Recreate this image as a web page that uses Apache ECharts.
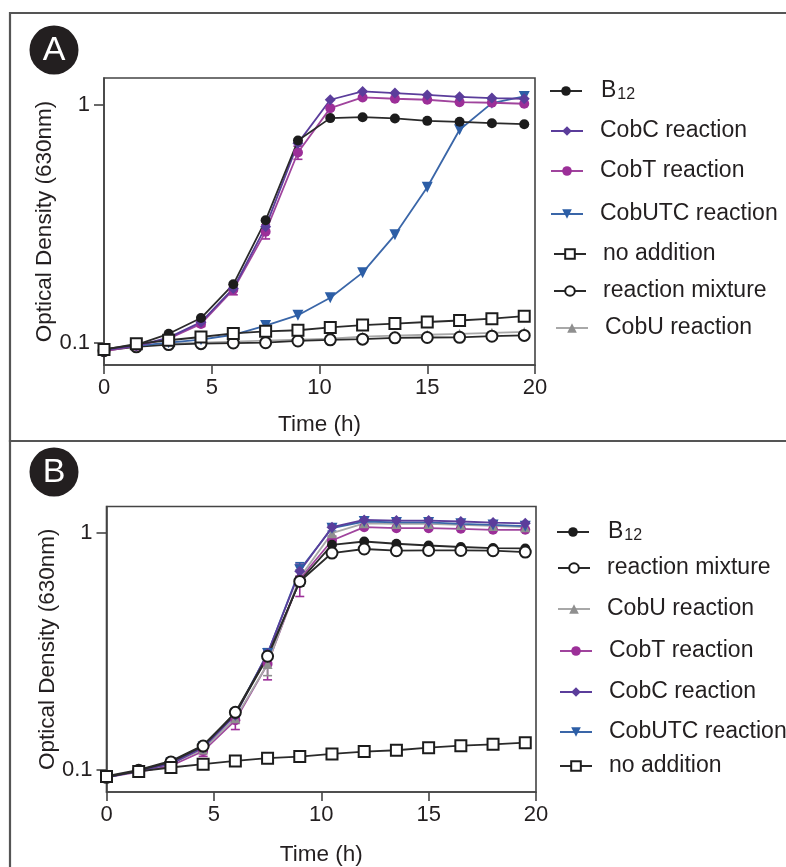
<!DOCTYPE html>
<html>
<head>
<meta charset="utf-8">
<script src="https://cdn.jsdelivr.net/npm/echarts@6/dist/echarts.min.js"></script>
<style>
  html, body { margin: 0; padding: 0; background: #fff; }
  #chart { width: 786px; height: 867px; }
</style>
</head>
<body>
<div id="chart"></div>
<script>
// Sampling times (h)
const times = [0, 1.5, 3, 4.5, 6, 7.5, 9, 10.5, 12, 13.5, 15, 16.5, 18, 19.5];

// Panel A: optical density (630 nm)
const b12A     = [0.094, 0.098, 0.109, 0.127, 0.176, 0.327, 0.708, 0.879, 0.887, 0.876, 0.856, 0.848, 0.837, 0.829];
const cobCA    = [0.093, 0.097, 0.105, 0.122, 0.169, 0.307, 0.690, 1.050, 1.138, 1.120, 1.100, 1.080, 1.067, 1.060];
const cobTA    = [0.092, 0.097, 0.104, 0.120, 0.167, 0.293, 0.630, 0.968, 1.074, 1.060, 1.050, 1.026, 1.020, 1.010];
const cobUTCA  = [0.093, 0.097, 0.100, 0.103, 0.108, 0.118, 0.1305, 0.1545, 0.197, 0.284, 0.450, 0.785, 1.016, 1.084];
const noAddA   = [0.0936, 0.0989, 0.1024, 0.1057, 0.1094, 0.1117, 0.1128, 0.1160, 0.1186, 0.1204, 0.1222, 0.1240, 0.1262, 0.1293];
const mixA     = [0.0926, 0.0961, 0.0982, 0.0991, 0.0997, 0.1000, 0.1017, 0.1028, 0.1035, 0.1048, 0.1052, 0.1054, 0.1065, 0.1073];
const cobUA    = [0.093, 0.097, 0.099, 0.100, 0.101, 0.102, 0.103, 0.104, 0.106, 0.107, 0.108, 0.109, 0.110, 0.111];

// Panel B: optical density (630 nm)
const b12B     = [0.094, 0.100, 0.109, 0.127, 0.173, 0.299, 0.627, 0.893, 0.922, 0.902, 0.887, 0.874, 0.865, 0.862];
const mixB     = [0.093, 0.0995, 0.108, 0.126, 0.175, 0.302, 0.625, 0.824, 0.857, 0.843, 0.845, 0.845, 0.843, 0.832];
const cobUB    = [0.093, 0.099, 0.106, 0.122, 0.165, 0.280, 0.650, 1.000, 1.100, 1.094, 1.094, 1.083, 1.073, 1.060];
const cobTB    = [0.093, 0.098, 0.104, 0.120, 0.162, 0.280, 0.640, 0.931, 1.060, 1.050, 1.050, 1.043, 1.033, 1.033];
const cobCB    = [0.093, 0.099, 0.106, 0.124, 0.170, 0.310, 0.690, 1.060, 1.137, 1.130, 1.130, 1.120, 1.108, 1.100];
const cobUTCB  = [0.093, 0.099, 0.107, 0.125, 0.172, 0.310, 0.700, 1.050, 1.120, 1.110, 1.110, 1.095, 1.083, 1.070];
const noAddB   = [0.0938, 0.0985, 0.1023, 0.1057, 0.1090, 0.1120, 0.1138, 0.1167, 0.1194, 0.1210, 0.1241, 0.1265, 0.1282, 0.1303];

// Standard deviations (0 = no visible error bar)
const errCobTA   = [0, 0, 0, 0.003, 0.008, 0.020, 0.040, 0, 0, 0, 0, 0, 0, 0];
const errCobTB   = [0, 0, 0, 0.006, 0.014, 0.040, 0.100, 0.040, 0, 0, 0, 0, 0, 0];
const errCobUTCB = [0, 0, 0, 0, 0.005, 0.015, 0.050, 0.030, 0, 0, 0, 0, 0, 0];
const errCobUB   = [0, 0, 0, 0, 0.008, 0.030, 0.050, 0, 0, 0, 0, 0, 0, 0];
const errB12B    = [0, 0, 0, 0, 0, 0.015, 0.030, 0, 0, 0, 0, 0, 0, 0];

// Axis tick values
const xTicks = [0, 5, 10, 15, 20];
const yTicks = [0.1, 1];

const FONT = 'Liberation Sans, Arial, sans-serif';
const TXT = '#231f20';
const AX = '#444';

// Series appearance per condition
const styles = {
  'B12':              { color: '#1c1c1c', line: '#2a2a2a', symbol: 'circle', size: 10 },
  'CobC reaction':    { color: '#5b3d9b', line: '#5b3d9b', symbol: 'diamond', size: 11 },
  'CobT reaction':    { color: '#9c2f98', line: '#a0449d', symbol: 'circle', size: 10 },
  'CobUTC reaction':  { color: '#2c5ea6', line: '#3a66a8', symbol: 'triangle', size: 11, rotate: 180 },
  'no addition':      { color: '#1c1c1c', line: '#2a2a2a', symbol: 'emptyRect', size: 11 },
  'reaction mixture': { color: '#1c1c1c', line: '#2a2a2a', symbol: 'emptyCircle', size: 11 },
  'CobU reaction':    { color: '#8f8f8f', line: '#a8a8a8', symbol: 'triangle', size: 10 }
};

function lineSeries(name, values, idx) {
  const s = styles[name];
  return {
    type: 'line',
    name: name,
    xAxisIndex: idx,
    yAxisIndex: idx,
    data: times.map((t, i) => [t, values[i]]),
    symbol: s.symbol,
    symbolSize: s.size,
    symbolRotate: s.rotate || 0,
    showAllSymbol: true,
    lineStyle: { color: s.line, width: 1.8 },
    itemStyle: { color: s.color, borderWidth: s.symbol.indexOf('empty') === 0 ? 2.6 : 0 },
    emphasis: { disabled: true },
    animation: false
  };
}

function errorSeries(list, idx) {
  const data = [];
  list.forEach(([name, values, errs]) => {
    errs.forEach((e, i) => {
      if (e > 0) {
        data.push({ value: [times[i], values[i] - e, values[i] + e], itemStyle: { color: styles[name].color } });
      }
    });
  });
  return {
    type: 'custom',
    xAxisIndex: idx,
    yAxisIndex: idx,
    encode: { x: 0, y: [1, 2] },
    data: data,
    z: 1,
    silent: true,
    animation: false,
    renderItem: function (params, api) {
      const t = api.value(0);
      const lo = api.coord([t, api.value(1)]);
      const hi = api.coord([t, api.value(2)]);
      const color = api.visual('color');
      const w = 4.5;
      const st = { stroke: color, lineWidth: 1.6 };
      return {
        type: 'group',
        children: [
          { type: 'line', shape: { x1: lo[0], y1: lo[1], x2: hi[0], y2: hi[1] }, style: st },
          { type: 'line', shape: { x1: lo[0] - w, y1: lo[1], x2: lo[0] + w, y2: lo[1] }, style: st },
          { type: 'line', shape: { x1: hi[0] - w, y1: hi[1], x2: hi[0] + w, y2: hi[1] }, style: st }
        ]
      };
    }
  };
}

function xAxisOpt(idx, gap) {
  return {
    type: 'value', gridIndex: idx, min: 0, max: 20, interval: 5,
    name: 'Time (h)', nameLocation: 'middle', nameGap: gap,
    nameTextStyle: { fontFamily: FONT, fontSize: 22.5, color: TXT },
    axisLine: { show: true, onZero: false, lineStyle: { color: AX, width: 1.6 } },
    axisTick: { show: true, inside: false, length: 9, lineStyle: { color: AX, width: 1.6 } },
    axisLabel: { fontFamily: FONT, fontSize: 22, color: TXT, margin: 12, customValues: xTicks },
    splitLine: { show: false }
  };
}

function yAxisOpt(idx) {
  return {
    type: 'log', gridIndex: idx, logBase: 10, min: 0.0806, max: 1.296,
    name: 'Optical Density (630nm)', nameLocation: 'middle', nameGap: 59, nameRotate: 90,
    nameMoveOverlap: false,
    nameTextStyle: { fontFamily: FONT, fontSize: 22.5, color: TXT, verticalAlign: 'middle' },
    axisLine: { show: true, lineStyle: { color: AX, width: 1.6 } },
    axisTick: { show: true, length: 10, lineStyle: { color: AX, width: 1.6 }, customValues: yTicks },
    axisLabel: {
      fontFamily: FONT, fontSize: 22, color: TXT, margin: 14, customValues: yTicks,
      formatter: v => (v >= 1 ? '1' : '0.1')
    },
    splitLine: { show: false }
  };
}

// One legend box per entry so each row sits at its own height
function legendItem(name, left, centerY, textPad) {
  const isB12 = name === 'B12';
  return {
    data: [name],
    left: left,
    top: centerY - 12,
    padding: 0,
    itemWidth: 32,
    itemHeight: 12,
    selectedMode: false,
    formatter: isB12 ? 'B{sub|12}' : undefined,
    textStyle: {
      fontFamily: FONT, fontSize: 23, color: TXT, lineHeight: 24,
      padding: [0, 0, 0, textPad],
      rich: {
        sub: { fontFamily: FONT, fontSize: 16, color: TXT, verticalAlign: 'bottom', lineHeight: 24, padding: [10, 0, 0, 1] }
      }
    }
  };
}

const legendsA = [
  legendItem('B12', 549, 89, 14),
  legendItem('CobC reaction', 550, 131, 12),
  legendItem('CobT reaction', 550, 171, 12),
  legendItem('CobUTC reaction', 550, 214, 12),
  legendItem('no addition', 553, 254, 12),
  legendItem('reaction mixture', 553, 291, 12),
  legendItem('CobU reaction', 555, 328, 12)
];
const legendsB = [
  legendItem('B12', 556, 530, 14),
  legendItem('reaction mixture', 557, 568, 12),
  legendItem('CobU reaction', 557, 609, 12),
  legendItem('CobT reaction', 559, 651, 12),
  legendItem('CobC reaction', 559, 692, 12),
  legendItem('CobUTC reaction', 559, 732, 12),
  legendItem('no addition', 559, 766, 12)
];

const seriesA = [
  lineSeries('CobU reaction', cobUA, 0),
  lineSeries('reaction mixture', mixA, 0),
  lineSeries('CobUTC reaction', cobUTCA, 0),
  lineSeries('CobT reaction', cobTA, 0),
  lineSeries('CobC reaction', cobCA, 0),
  lineSeries('B12', b12A, 0),
  lineSeries('no addition', noAddA, 0),
  errorSeries([['CobT reaction', cobTA, errCobTA]], 0)
];
const seriesB = [
  lineSeries('CobT reaction', cobTB, 1),
  lineSeries('CobU reaction', cobUB, 1),
  lineSeries('CobUTC reaction', cobUTCB, 1),
  lineSeries('CobC reaction', cobCB, 1),
  lineSeries('B12', b12B, 1),
  lineSeries('reaction mixture', mixB, 1),
  lineSeries('no addition', noAddB, 1),
  errorSeries([
    ['CobT reaction', cobTB, errCobTB],
    ['CobUTC reaction', cobUTCB, errCobUTCB],
    ['CobU reaction', cobUB, errCobUB],
    ['B12', b12B, errB12B]
  ], 1)
];

function badge(letter, cy) {
  return [
    { type: 'circle', shape: { cx: 54, cy: cy, r: 24.5 }, style: { fill: '#231f20' }, z: 10 },
    { type: 'text', x: 54, y: cy + 1, style: { text: letter, fill: '#fff', font: '34px ' + FONT, align: 'center', verticalAlign: 'middle' }, z: 11 }
  ];
}

const option = {
  backgroundColor: '#fff',
  animation: false,
  grid: [
    { left: 104, top: 78, width: 431, height: 287, show: true, borderColor: AX, borderWidth: 1.6, backgroundColor: 'transparent' },
    { left: 106.5, top: 506.5, width: 429.5, height: 287, show: true, borderColor: AX, borderWidth: 1.6, backgroundColor: 'transparent' }
  ],
  xAxis: [xAxisOpt(0, 48), xAxisOpt(1, 51)],
  yAxis: [yAxisOpt(0), yAxisOpt(1)],
  legend: legendsA.concat(legendsB),
  series: seriesA.concat(seriesB),
  graphic: [
    { type: 'rect', shape: { x: 10, y: 13, width: 800, height: 428 }, style: { fill: 'none', stroke: '#555', lineWidth: 2.2 }, z: 5 },
    { type: 'rect', shape: { x: 10, y: 441, width: 800, height: 460 }, style: { fill: 'none', stroke: '#555', lineWidth: 2.2 }, z: 5 }
  ].concat(badge('A', 50), badge('B', 472))
};

const chart = echarts.init(document.getElementById('chart'), null, { renderer: 'canvas' });
chart.setOption(option);
</script>
</body>
</html>
